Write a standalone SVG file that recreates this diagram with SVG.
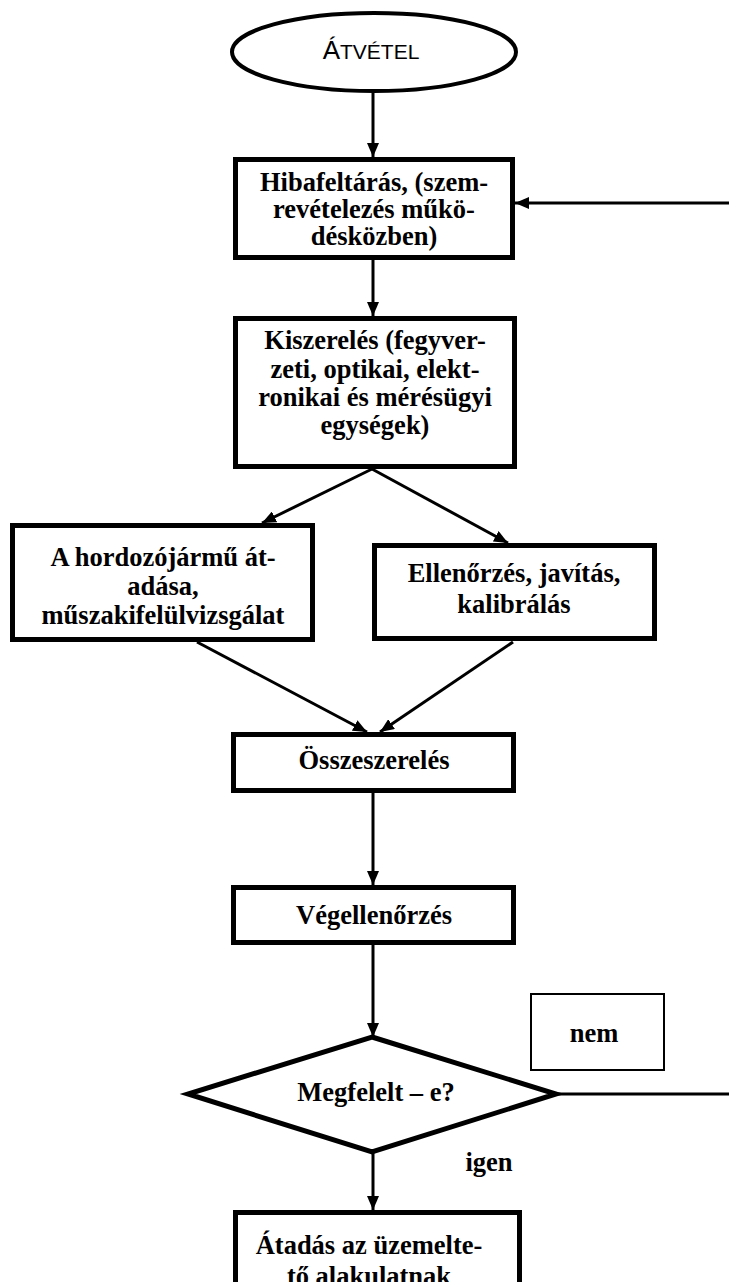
<svg xmlns="http://www.w3.org/2000/svg" width="729" height="1282" viewBox="0 0 729 1282">
<defs>
<marker id="ah" markerWidth="14" markerHeight="12" refX="14" refY="6" orient="auto" markerUnits="userSpaceOnUse">
<path d="M0,0 L14,6 L0,12 z" fill="#000"/>
</marker>
<style>
.box{fill:#fff;stroke:#000;stroke-width:5}
.t{font-family:"Liberation Serif","Times New Roman",serif;font-weight:bold;font-size:26.5px;text-anchor:middle;fill:#000}
.c{fill:none;stroke:#000;stroke-width:3}
.ca{fill:none;stroke:#000;stroke-width:3;marker-end:url(#ah)}
</style>
</defs>
<rect width="729" height="1282" fill="#fff"/>
<g id="connectors">
<line class="ca" x1="373" y1="92" x2="373" y2="157"/>
<line class="ca" x1="729" y1="203" x2="515" y2="203"/>
<line class="ca" x1="373" y1="260" x2="373" y2="316"/>
<line class="ca" x1="372" y1="469" x2="262" y2="523"/>
<line class="ca" x1="372" y1="469" x2="508" y2="543"/>
<line class="ca" x1="197" y1="642" x2="367" y2="732"/>
<line class="ca" x1="513" y1="642" x2="380" y2="732"/>
<line class="ca" x1="373" y1="793" x2="373" y2="885"/>
<line class="ca" x1="373" y1="945" x2="373" y2="1037"/>
<line class="c" x1="556" y1="1094" x2="729" y2="1094"/>
<line class="ca" x1="373" y1="1152" x2="373" y2="1210"/>
</g>
<g id="n-atvetel">
<ellipse cx="374" cy="52" rx="142" ry="39" fill="#fff" stroke="#000" stroke-width="4"/>
<text x="371" y="59" text-anchor="middle" font-family="'Liberation Sans', Arial, sans-serif" fill="#000"><tspan font-size="26">Á</tspan><tspan font-size="21">TVÉTEL</tspan></text>
</g>
<g id="n-hibafeltaras">
<rect class="box" x="235.5" y="159.5" width="277" height="98"/>
<text class="t" x="374" y="191">Hibafeltárás, (szem-</text>
<text class="t" x="374" y="218">revételezés műkö-</text>
<text class="t" x="374" y="245">désközben)</text>
</g>
<g id="n-kiszereles">
<rect class="box" x="235.5" y="318.5" width="279" height="148"/>
<text class="t" x="375" y="349">Kiszerelés (fegyver-</text>
<text class="t" x="375" y="378">zeti, optikai, elekt-</text>
<text class="t" x="375" y="406">ronikai és mérésügyi</text>
<text class="t" x="375" y="434">egységek)</text>
</g>
<g id="n-hordozojarmu">
<rect class="box" x="12.5" y="525.5" width="300" height="114"/>
<text class="t" x="163" y="566">A hordozójármű át-</text>
<text class="t" x="163" y="595">adása,</text>
<text class="t" x="163" y="624">műszakifelülvizsgálat</text>
</g>
<g id="n-ellenorzes">
<rect class="box" x="374.5" y="545.5" width="280" height="93"/>
<text class="t" x="514" y="582">Ellenőrzés, javítás,</text>
<text class="t" x="514" y="613">kalibrálás</text>
</g>
<g id="n-osszeszereles">
<rect class="box" x="233.5" y="734.5" width="280" height="56"/>
<text class="t" x="374" y="769">Összeszerelés</text>
</g>
<g id="n-vegellenorzes">
<rect class="box" x="233.5" y="887.5" width="280" height="55"/>
<text class="t" x="374" y="924">Végellenőrzés</text>
</g>
<g id="n-megfelelt">
<polygon points="372,1037 556,1094 372,1152 188,1094" fill="#fff" stroke="#000" stroke-width="5" stroke-linejoin="miter"/>
<text class="t" x="376" y="1101">Megfelelt – e?</text>
</g>
<g id="n-nem">
<rect x="531" y="994" width="133" height="76" fill="#fff" stroke="#000" stroke-width="2"/>
<text class="t" x="594" y="1042">nem</text>
</g>
<g id="n-igen">
<text class="t" x="489" y="1171">igen</text>
</g>
<g id="n-atadas">
<rect class="box" x="235.5" y="1212.5" width="284" height="100"/>
<text class="t" x="369" y="1254">Átadás az üzemelte-</text>
<text class="t" x="369" y="1285">tő alakulatnak</text>
</g>
</svg>
